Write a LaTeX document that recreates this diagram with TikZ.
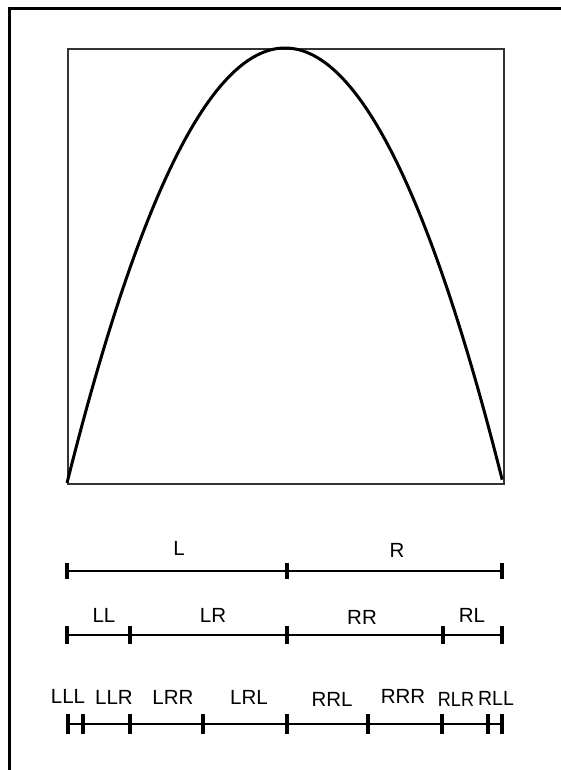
\documentclass[tikz,border=0pt]{standalone}
\usepackage{fontspec}
\setmainfont{Liberation Sans}
\begin{document}
\begin{tikzpicture}[x=1pt,y=-1pt,
  lab/.style={inner sep=0pt,font=\fontsize{20.5}{20.5}\selectfont},
  seg/.style={line width=2.7pt},
  tick/.style={line width=3.3pt},
  frameline/.style={line width=2.9pt},
  boxline/.style={line width=1.9pt,draw=black!80},
  curve/.style={line width=3pt}]
\useasboundingbox (0,0) rectangle (561,770);
\fill[white] (0,0) rectangle (561,770);
% outer frame (left and top sides visible)
\coordinate (fbl) at (9.7,775);
\coordinate (ftl) at (9.7,8.6);
\coordinate (ftr) at (566,8.6);
\draw[frameline] (fbl) -- (ftl) -- (ftr);
% plot box
\node[draw,boxline,minimum width=436pt,minimum height=435pt,inner sep=0pt,anchor=north west] (box) at (67,48) {};
% logistic parabola
\draw[curve,line join=round] plot[domain=0:1,samples=150,smooth] ({67+436*\x},{483-435*4*\x*(1-\x)});
% row 1
\foreach \n/\x in {a0/67,a1/287,a2/502}{\coordinate (\n) at (\x,571);}
\draw[seg] (a0) -- (a2);
\foreach \n in {a0,a1,a2}{\draw[tick] ([yshift=-8pt]\n) -- ([yshift=8pt]\n);}
\node[lab] (L) at (179,548) {L};
\node[lab] (R) at (397,550) {R};
% row 2
\foreach \n/\x in {b0/67,b1/130,b2/287,b3/443,b4/502}{\coordinate (\n) at (\x,635);}
\draw[seg] (b0) -- (b4);
\foreach \n in {b0,b1,b2,b3,b4}{\draw[tick] ([yshift=-9pt]\n) -- ([yshift=9pt]\n);}
\node[lab] (LL) at (104,615) {LL};
\node[lab] (LR) at (213,615) {LR};
\node[lab] (RR) at (362,617) {RR};
\node[lab] (RL) at (472,615) {RL};
% row 3
\foreach \n/\x in {c0/68,c1/83,c2/130,c3/203,c4/287,c5/368,c6/442,c7/488,c8/502}{\coordinate (\n) at (\x,724);}
\draw[seg] (c0) -- (c8);
\foreach \n in {c0,c1,c2,c3,c4,c5,c6,c7,c8}{\draw[tick] ([yshift=-10pt]\n) -- ([yshift=10pt]\n);}
\node[lab] (LLL) at (68,696) {LLL};
\node[lab] (LLR) at (114,697) {LLR};
\node[lab] (LRR) at (173,697) {LRR};
\node[lab] (LRL) at (249,697) {LRL};
\node[lab] (RRL) at (332,699) {RRL};
\node[lab] (RRR) at (403,696) {RRR};
\node[lab] (RLR) at (456,699) {\scalebox{0.88}[1]{RLR}};
\node[lab] (RLL) at (496,698) {\scalebox{0.95}[1]{RLL}};
\end{tikzpicture}
\end{document}
